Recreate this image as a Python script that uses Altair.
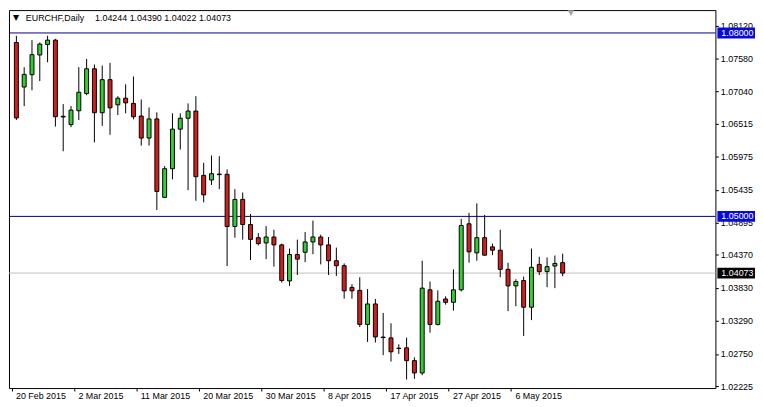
import json
import altair as alt
import pandas as pd

symbol = "EURCHF,Daily"

opens = [
    1.07844, 1.07116, 1.07317, 1.07640, 1.07812, 1.07883, 1.06637, 1.06501, 1.06728, 1.07009,
    1.07414, 1.06696, 1.07236, 1.06825, 1.06933, 1.06848, 1.06642, 1.06281, 1.06594, 1.05311,
    1.05780, 1.06427, 1.06605, 1.06723, 1.05671, 1.05595, 1.05692, 1.05688, 1.04835, 1.05278,
    1.04867, 1.04652, 1.04566, 1.04663, 1.04534, 1.03945, 1.04377, 1.04414, 1.04582, 1.04663,
    1.04534, 1.04275, 1.04194, 1.03838, 1.03790, 1.03233, 1.03568, 1.03026, 1.03013, 1.02845,
    1.02851, 1.02641, 1.02440, 1.03799, 1.03233, 1.03649, 1.03595, 1.03799, 1.04879, 1.04404,
    1.04652, 1.04502, 1.04447, 1.04134, 1.03864, 1.03951, 1.03515, 1.04215, 1.04097, 1.04188,
    1.04244]
highs = [
    1.07953, 1.07440, 1.07883, 1.07844, 1.07953, 1.07904, 1.06836, 1.06804, 1.07440, 1.07576,
    1.07484, 1.07467, 1.07511, 1.06966, 1.07160, 1.07289, 1.06912, 1.06780, 1.06702, 1.05822,
    1.06686, 1.06686, 1.06848, 1.06966, 1.05877, 1.05995, 1.05984, 1.05768, 1.05445, 1.05391,
    1.05040, 1.04728, 1.04841, 1.04781, 1.04555, 1.04474, 1.04620, 1.04744, 1.04932, 1.04701,
    1.04663, 1.04490, 1.04231, 1.03892, 1.04005, 1.03811, 1.03649, 1.03422, 1.03252, 1.02909,
    1.03018, 1.02694, 1.04275, 1.03935, 1.03790, 1.03693, 1.04134, 1.04959, 1.05057, 1.05213,
    1.05024, 1.04555, 1.04781, 1.04243, 1.03972, 1.04016, 1.04474, 1.04340, 1.04328, 1.04361,
    1.04390]
lows = [
    1.06577, 1.06804, 1.07063, 1.07213, 1.07521, 1.06469, 1.06065, 1.06459, 1.06577, 1.06982,
    1.06210, 1.06480, 1.06335, 1.06658, 1.06686, 1.06589, 1.06157, 1.06157, 1.05105, 1.05299,
    1.05607, 1.06092, 1.05429, 1.05256, 1.05230, 1.05514, 1.05445, 1.04188, 1.04652, 1.04620,
    1.04285, 1.04527, 1.04301, 1.04178, 1.03919, 1.03864, 1.04042, 1.04252, 1.04382, 1.04215,
    1.04042, 1.04026, 1.03654, 1.03654, 1.03191, 1.02948, 1.02937, 1.02731, 1.02625, 1.02751,
    1.02333, 1.02343, 1.02403, 1.03099, 1.03217, 1.03557, 1.03458, 1.03773, 1.04243, 1.04275,
    1.04361, 1.04366, 1.04005, 1.03450, 1.03531, 1.03045, 1.03304, 1.04042, 1.03843, 1.03827,
    1.04022]
closes = [
    1.06610, 1.07322, 1.07645, 1.07818, 1.07883, 1.06631, 1.06626, 1.06739, 1.07030, 1.07414,
    1.06696, 1.07236, 1.06776, 1.06933, 1.06857, 1.06631, 1.06281, 1.06594, 1.05408, 1.05780,
    1.06427, 1.06605, 1.06723, 1.05650, 1.05353, 1.05699, 1.05683, 1.04835, 1.05278, 1.04867,
    1.04624, 1.04555, 1.04663, 1.04534, 1.03951, 1.04377, 1.04301, 1.04582, 1.04663, 1.04534,
    1.04275, 1.04194, 1.03783, 1.03783, 1.03233, 1.03568, 1.03029, 1.03018, 1.02786, 1.02840,
    1.02641, 1.02440, 1.03827, 1.03233, 1.03612, 1.03595, 1.03799, 1.04851, 1.04421, 1.04652,
    1.04366, 1.04447, 1.04134, 1.03864, 1.03935, 1.03515, 1.04167, 1.04097, 1.04178, 1.04231,
    1.04073]

date_bar_index = [0, 8, 16, 24, 32, 40, 48, 56, 64]
date_labels = ["20 Feb 2015", "2 Mar 2015", "11 Mar 2015", "20 Mar 2015", "30 Mar 2015",
               "8 Apr 2015", "17 Apr 2015", "27 Apr 2015", "6 May 2015"]
price_ticks = [1.08120, 1.07580, 1.07040, 1.06515, 1.05975, 1.05435, 1.04895,
               1.04370, 1.03830, 1.03290, 1.02750, 1.02225]
level_values = [1.08000, 1.05000]

FONT = "Liberation Sans"
W, H = 714, 382

n = len(opens)
df = pd.DataFrame({
    "i": list(range(n)),
    "o": opens, "h": highs, "l": lows, "c": closes,
})
df["dir"] = ["up" if c > o else "down" for o, c in zip(opens, closes)]

xs = alt.Scale(domain=[-0.3125, 88.9375], nice=False, zero=False)
ys = alt.Scale(domain=[1.02193, 1.08374], nice=False, zero=False)

labels_js = json.dumps(date_labels)
x_axis = alt.Axis(
    values=[v - 0.625 for v in date_bar_index],
    labelExpr=f"{labels_js}[round((datum.value + 0.625) / 8)]",
    title=None, grid=False, domain=False, tickSize=3, tickColor="black",
    labelAlign="left", labelOffset=4, labelPadding=1, labelFont=FONT, labelFontSize=9,
    labelColor="black", labelFlush=False, labelOverlap=False, labelBound=False,
)
y_axis = alt.Axis(
    orient="right", values=price_ticks, format=".5f", title=None, grid=False,
    domain=False, tickSize=3, tickColor="black", labelPadding=2, labelFont=FONT,
    labelFontSize=9, labelColor="black", labelOverlap=False, labelFlush=False,
    labelBound=False,
)

def X(field):
    return alt.X(field, scale=xs, axis=x_axis)

def Y(field):
    return alt.Y(field, scale=ys, axis=y_axis)

base = alt.Chart(df)
wicks = base.mark_rule(color="black", strokeWidth=1).encode(
    x=X("i:Q"), y=Y("l:Q"), y2="h:Q",
)
bodies = base.mark_bar(size=4, stroke="black", strokeWidth=1).encode(
    x=X("i:Q"), y=Y("o:Q"), y2="c:Q",
    color=alt.Color("dir:N", scale=alt.Scale(domain=["up", "down"],
                                             range=["#32cd32", "#d21e1e"]), legend=None),
)

lev_df = pd.DataFrame({"v": level_values, "t": [f"{v:.5f}" for v in level_values]})
level_lines = alt.Chart(lev_df).mark_rule(color="#000080", strokeWidth=1).encode(y=Y("v:Q"))

cur_df = pd.DataFrame({"v": [closes[-1]], "t": [f"{closes[-1]:.5f}"]})
cur_line = alt.Chart(cur_df).mark_rule(color="#c0c0c0", strokeWidth=1).encode(y=Y("v:Q"))

def tag(d, bg):
    box = alt.Chart(d).transform_calculate(
        top="datum.v + 0.00089", bot="datum.v - 0.00089"
    ).mark_rect(color=bg).encode(
        x=alt.value(716), x2=alt.value(754), y=Y("top:Q"), y2="bot:Q")
    txt = alt.Chart(d).mark_text(align="left", baseline="middle", color="white",
                                 font=FONT, fontSize=9).encode(
        x=alt.value(720), y=Y("v:Q"), text="t:N")
    return box + txt

lev_tags = tag(lev_df, "#0a0ad8")
cur_tags = tag(cur_df, "#000000")

title_df = pd.DataFrame({"sym": [symbol],
                         "ohlc": [f"{opens[-1]:.5f} {highs[-1]:.5f} {lows[-1]:.5f} {closes[-1]:.5f}"]})
tri = alt.Chart(title_df).mark_text(text="▼", font="DejaVu Sans", fontSize=8,
                                    color="black", baseline="middle", align="left").encode(
    x=alt.value(4), y=alt.value(8))
sym_txt = alt.Chart(title_df).mark_text(font=FONT, fontSize=9, color="black",
                                        baseline="middle", align="left").encode(
    x=alt.value(17), y=alt.value(8), text="sym:N")
ohlc_txt = alt.Chart(title_df).mark_text(font=FONT, fontSize=9, color="black",
                                         baseline="middle", align="left").encode(
    x=alt.value(87), y=alt.value(8), text="ohlc:N")
shift_mark = alt.Chart(title_df).mark_point(shape="triangle-down", filled=True,
                                            color="#a8a8a8", size=45, opacity=1).encode(
    x=alt.value(568), y=alt.value(3))

chart = alt.layer(
    cur_line, level_lines, wicks, bodies, lev_tags, cur_tags,
    tri, sym_txt, ohlc_txt, shift_mark,
).properties(width=W, height=H, padding=0, background="white").configure_view(
    stroke="black", strokeWidth=1
).configure_axis(labelOverlap=False)

chart.save("out.html", embed_options={"renderer": "svg", "actions": False})
